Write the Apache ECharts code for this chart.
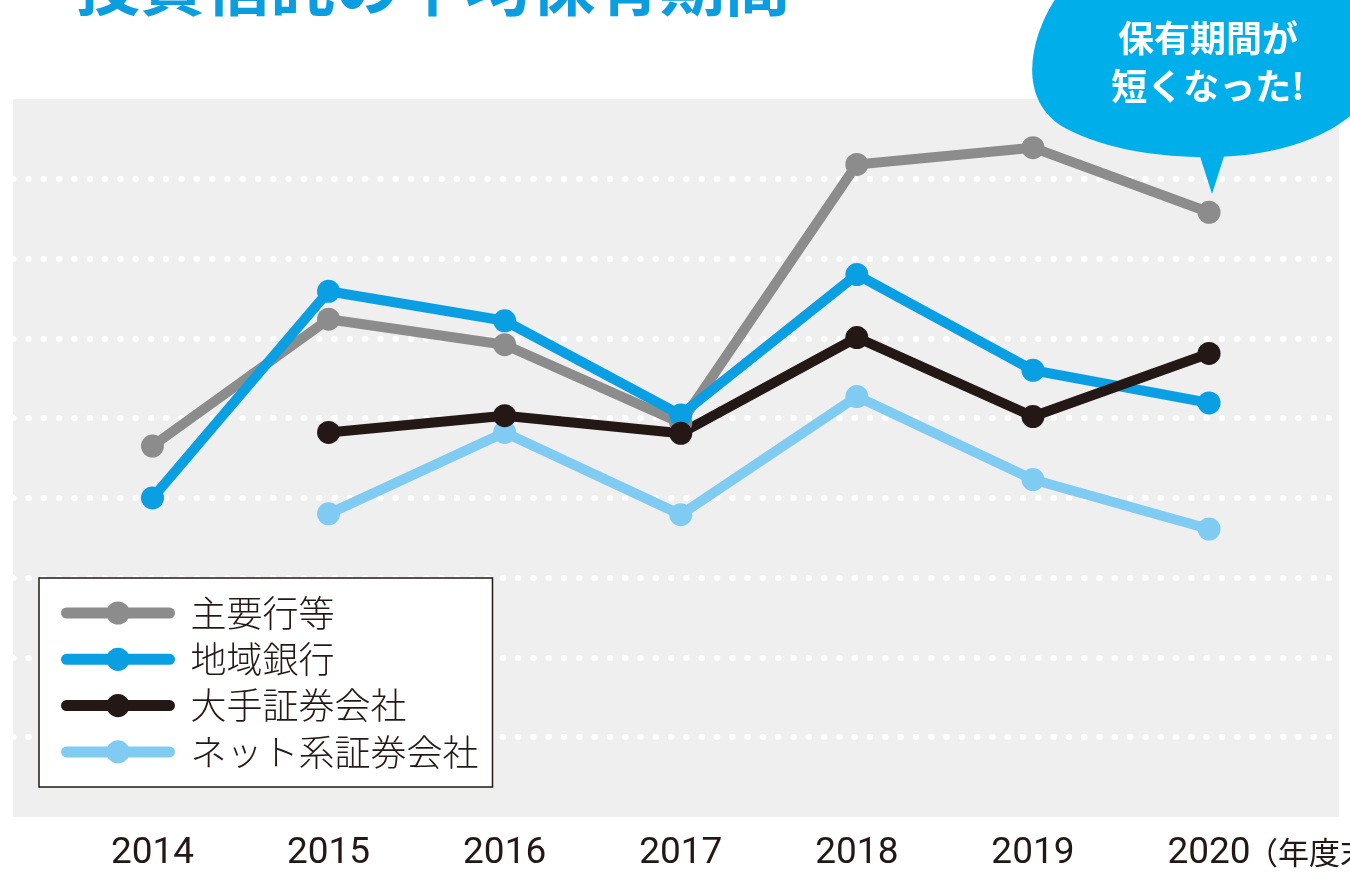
<!DOCTYPE html>
<html>
<head>
<meta charset="utf-8">
<script src="https://cdn.jsdelivr.net/npm/echarts@6/dist/echarts.min.js"></script>
<style>
  html, body { margin: 0; padding: 0; background: #fff; }
  #chart { width: 1350px; height: 879px; }
</style>
</head>
<body>
<div id="chart"></div>
<script>
// years on the x axis
const years = [2014, 2015, 2016, 2017, 2018, 2019, 2020];

// average holding period (no scale printed)
const majorBanks = [4.65, 6.24, 5.92, 4.94, 8.18, 8.39, 7.58];
const regionalBanks = [4.00, 6.59, 6.22, 5.04, 6.80, 5.60, 5.19];
const bigBrokers = [null, 4.82, 5.03, 4.81, 6.01, 5.02, 5.81];
const onlineBrokers = [null, 3.80, 4.82, 3.79, 5.27, 4.23, 3.61];

const seriesNames = ['主要行等', '地域銀行', '大手証券会社', 'ネット系証券会社'];

const COLORS = {
    major: '#8c8c8c',
    regional: '#0a9fe3',
    big: '#231815',
    online: '#80cbf2'
};

// speech bubble outline (top right corner)
echarts.graphic.registerShape('bubble', echarts.graphic.extendShape({
    shape: {},
    buildPath: function (ctx) {
        ctx.moveTo(1058, -5);
        ctx.bezierCurveTo(1030, 35, 1015, 100, 1065, 128);
        ctx.bezierCurveTo(1110, 152, 1170, 158, 1215, 157);
        ctx.bezierCurveTo(1280, 155, 1325, 138, 1355, 112);
        ctx.lineTo(1355, -5);
        ctx.closePath();
    }
}));

var toPairs = (vals) => {
    return years.map((y, i) => [y, vals[i]]).filter(p => p[1] !== null);
};

var makeSeries = (name, vals, color) => {
    return {
        name: name,
        type: 'line',
        data: toPairs(vals),
        symbol: 'circle',
        symbolSize: 23,
        itemStyle: { color: color },
        lineStyle: { width: 10, color: color },
        emphasis: { disabled: true },
        animation: false
    };
};

var chart = echarts.init(document.getElementById('chart'));

const options = {
    backgroundColor: '#ffffff',
    textStyle: { fontFamily: 'Noto Sans CJK JP' },
    grid: {
        left: 13,
        right: 11,
        top: 99,
        bottom: 62,
        show: true,
        backgroundColor: '#efefef',
        borderWidth: 0
    },
    xAxis: {
        type: 'value',
        min: 2013.208,
        max: 2020.738,
        axisLine: { show: false },
        axisTick: { show: false },
        splitLine: { show: false },
        axisLabel: {
            customValues: years,
            formatter: (v) => String(v),
            fontFamily: 'Roboto',
            fontSize: 37,
            color: '#231815',
            margin: 18
        }
    },
    yAxis: {
        type: 'value',
        min: 0,
        max: 9,
        interval: 1,
        axisLine: { show: false },
        axisTick: { show: false },
        axisLabel: { show: false },
        splitLine: {
            showMinLine: false,
            showMaxLine: false,
            lineStyle: {
                color: '#ffffff',
                width: 6,
                type: [0.5, 14.8],
                cap: 'round'
            }
        }
    },
    legend: {
        data: seriesNames,
        orient: 'vertical',
        left: 39,
        top: 578,
        padding: [17, 14, 17, 22],
        itemWidth: 103,
        itemHeight: 29,
        itemGap: 10.3,
        backgroundColor: '#ffffff',
        borderColor: '#231815',
        borderWidth: 1.5,
        borderRadius: 0,
        selectedMode: false,
        lineStyle: { width: 11, cap: 'round' },
        textStyle: {
            fontFamily: 'Noto Sans CJK JP',
            fontWeight: 300,
            fontSize: 36,
            lineHeight: 29,
            color: '#231815',
            padding: [0, 0, 0, 16]
        }
    },
    graphic: [
        {
            type: 'text',
            x: 75,
            y: 18,
            style: {
                text: '投資信託の平均保有期間',
                fill: '#0a9de0',
                font: 'bold 65px "Noto Sans CJK JP"',
                align: 'left',
                verticalAlign: 'bottom'
            }
        },
        {
            type: 'bubble',
            shape: {},
            style: { fill: '#00aeea' },
            z: 100
        },
        {
            type: 'polygon',
            shape: { points: [[1198, 150], [1226, 150], [1212, 194]] },
            style: { fill: '#00aeea' },
            z: 100
        },
        {
            type: 'text',
            x: 1208,
            y: 38,
            style: {
                text: '保有期間が',
                fill: '#ffffff',
                font: 'bold 36px "Noto Sans CJK JP"',
                align: 'center',
                verticalAlign: 'middle'
            },
            z: 101
        },
        {
            type: 'text',
            x: 1208,
            y: 86,
            style: {
                text: '短くなった!',
                fill: '#ffffff',
                font: 'bold 36px "Noto Sans CJK JP"',
                align: 'center',
                verticalAlign: 'middle'
            },
            z: 101
        },
        {
            type: 'text',
            x: 1247,
            y: 852,
            style: {
                text: '（年度末）',
                fill: '#231815',
                font: '31px "Noto Sans CJK JP"',
                align: 'left',
                verticalAlign: 'middle'
            }
        }
    ],
    series: [
        makeSeries(seriesNames[0], majorBanks, COLORS.major),
        makeSeries(seriesNames[3], onlineBrokers, COLORS.online),
        makeSeries(seriesNames[1], regionalBanks, COLORS.regional),
        makeSeries(seriesNames[2], bigBrokers, COLORS.big)
    ]
};

chart.setOption(options);
</script>
</body>
</html>
